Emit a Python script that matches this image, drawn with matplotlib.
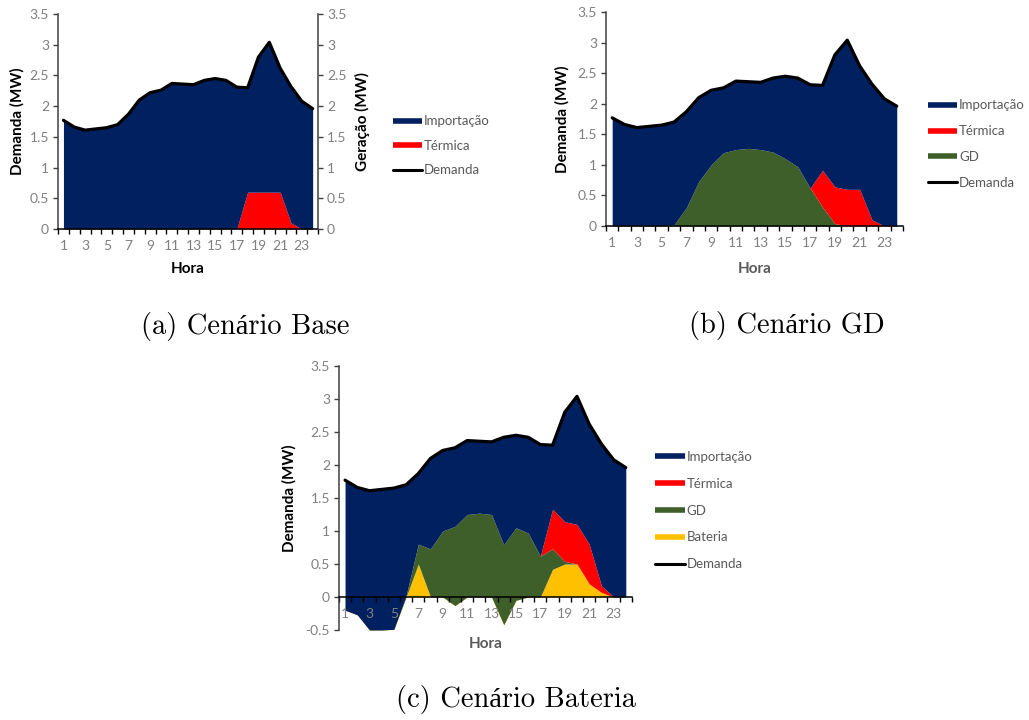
import numpy as np
import matplotlib
matplotlib.use("Agg")
import matplotlib.pyplot as plt
from matplotlib.lines import Line2D

plt.rcParams['font.family'] = ['Lato', 'DejaVu Sans']
plt.rcParams['axes.unicode_minus'] = False

# dados (MW por hora)
horas = np.arange(1, 25)
demanda = [1.77, 1.66, 1.61, 1.63, 1.65, 1.70, 1.87, 2.10, 2.22, 2.26, 2.37, 2.36,
           2.35, 2.42, 2.45, 2.42, 2.31, 2.30, 2.80, 3.04, 2.62, 2.32, 2.08, 1.96]
termica = [0, 0, 0, 0, 0, 0, 0, 0, 0, 0, 0, 0,
           0, 0, 0, 0, 0, 0.60, 0.60, 0.60, 0.60, 0.10, 0, 0]
gd = [0, 0, 0, 0, 0, 0.02, 0.30, 0.73, 1.00, 1.20, 1.25, 1.27,
      1.25, 1.21, 1.10, 0.97, 0.62, 0.31, 0.04, 0, 0, 0, 0, 0]
bateria = [-0.20, -0.27, -0.50, -0.50, -0.49, 0, 0.50, 0, 0, -0.13, 0, 0,
           0, -0.42, -0.05, 0, 0, 0.42, 0.50, 0.50, 0.20, 0.07, 0, 0]

x_labels = [str(h) for h in range(1, 25, 2)]

AZUL = '#002060'
VERMELHO = '#ff0000'
VERDE = '#3e5f2a'
AMARELO = '#ffc000'
CINZA = '#808080'
EIXO = '#404040'
TICK_FS = 10
LAB_FS = 11


def style_axis(ax, ymin):
    ax.set_xlim(0.5, 24.5)
    ax.set_ylim(ymin, 3.5)
    ax.set_xticks(range(1, 25, 2))
    ax.set_xticklabels(x_labels)
    ax.set_xticks(np.arange(0.5, 25, 1), minor=True)
    ax.tick_params(axis='x', which='major', length=0, pad=8, labelsize=TICK_FS, labelcolor=CINZA)
    ax.tick_params(axis='x', which='minor', length=3.5, width=1, color='black', direction='out')
    yt = np.arange(ymin, 3.51, 0.5)
    ax.set_yticks(yt)
    ax.set_yticklabels(['%g' % v for v in yt])
    ax.tick_params(axis='y', length=3.5, width=1, color=EIXO, pad=3, labelsize=TICK_FS, labelcolor=CINZA)
    ax.spines['top'].set_visible(False)
    ax.spines['right'].set_visible(False)
    ax.spines['left'].set_color(EIXO)
    ax.spines['left'].set_linewidth(1.1)
    ax.spines['bottom'].set_color('black')
    ax.spines['bottom'].set_linewidth(1.1)
    ax.spines['bottom'].set_position(('data', 0))
    ax.set_facecolor('none')


def draw_stack(ax, layers):
    # empilhamento tipo Excel: cada serie vai do acumulado anterior ao seu acumulado
    base = np.zeros(len(horas))
    for vals, cor in layers:
        top = base + np.array(vals)
        ax.fill_between(horas, base, top, color=cor, linewidth=0)
        base = top
    ax.plot(horas, demanda, color='black', lw=2.3, solid_joinstyle='round', solid_capstyle='round', zorder=5)


def importacao(*outras):
    return np.array(demanda) - np.sum(outras, axis=0)


def legend_handles(names):
    cores = {'Importação': AZUL, 'Térmica': VERMELHO, 'GD': VERDE, 'Bateria': AMARELO}
    hs = []
    for n in names:
        if n == 'Demanda':
            hs.append(Line2D([], [], color='black', lw=2.2, solid_capstyle='round'))
        else:
            hs.append(Line2D([], [], color=cores[n], lw=4, solid_capstyle='butt'))
    return hs


leg_kw = dict(loc='upper left', frameon=False, fontsize=9.5, labelcolor='#595959',
              handlelength=2.2, handletextpad=0.15, borderpad=0, borderaxespad=0)

fig = plt.figure(figsize=(10.29, 7.2), dpi=100)

# (a) Cenario Base
ax1 = fig.add_axes([0.0564, 0.6819, 0.2527, 0.2986])
draw_stack(ax1, [(termica, VERMELHO), (importacao(termica), AZUL)])
style_axis(ax1, 0)
ax1.set_ylabel('Demanda (MW)', fontsize=LAB_FS, fontweight='bold')
ax1.yaxis.set_label_coords(-0.13, 0.5)
ax1.set_xlabel('Hora', fontsize=LAB_FS, fontweight='bold')
ax1.xaxis.set_label_coords(0.5, -0.155)
ax1b = ax1.twinx()
ax1b.set_ylim(0, 3.5)
ax1b.set_yticks(np.arange(0, 3.51, 0.5))
ax1b.set_yticklabels(['%g' % v for v in np.arange(0, 3.51, 0.5)])
ax1b.tick_params(axis='y', length=3.5, width=1, color=EIXO, pad=3, labelsize=TICK_FS, labelcolor=CINZA)
for s in ['top', 'left', 'bottom']:
    ax1b.spines[s].set_visible(False)
ax1b.spines['right'].set_color(EIXO)
ax1b.spines['right'].set_linewidth(1.1)
ax1b.set_ylabel('Geração (MW)', fontsize=LAB_FS, fontweight='bold')
ax1b.yaxis.set_label_coords(1.14, 0.5)
nomes_a = ['Importação', 'Térmica', 'Demanda']
fig.legend(legend_handles(nomes_a), nomes_a, bbox_to_anchor=(0.382, 0.840),
           labelspacing=0.95, **leg_kw)

# (b) Cenario GD
ax2 = fig.add_axes([0.5889, 0.6861, 0.2886, 0.2972])
draw_stack(ax2, [(gd, VERDE), (termica, VERMELHO), (importacao(gd, termica), AZUL)])
style_axis(ax2, 0)
ax2.set_ylabel('Demanda (MW)', fontsize=LAB_FS, fontweight='bold')
ax2.yaxis.set_label_coords(-0.124, 0.5)
ax2.set_xlabel('Hora', fontsize=LAB_FS, fontweight='bold', color='#595959')
ax2.xaxis.set_label_coords(0.5, -0.168)
nomes_b = ['Importação', 'Térmica', 'GD', 'Demanda']
fig.legend(legend_handles(nomes_b), nomes_b, bbox_to_anchor=(0.902, 0.862),
           labelspacing=1.05, **leg_kw)

# (c) Cenario Bateria
ax3 = fig.add_axes([0.3294, 0.125, 0.2847, 0.3667])
draw_stack(ax3, [(bateria, AMARELO), (gd, VERDE), (termica, VERMELHO),
                 (importacao(bateria, gd, termica), AZUL)])
style_axis(ax3, -0.5)
ax3.set_ylabel('Demanda (MW)', fontsize=LAB_FS, fontweight='bold')
ax3.yaxis.set_label_coords(-0.143, 0.5)
ax3.set_xlabel('Hora', fontsize=LAB_FS, fontweight='bold', color='#595959')
ax3.xaxis.set_label_coords(0.5, -0.028)
nomes_c = ['Importação', 'Térmica', 'GD', 'Bateria', 'Demanda']
fig.legend(legend_handles(nomes_c), nomes_c, bbox_to_anchor=(0.637, 0.374),
           labelspacing=1.13, **leg_kw)

# legendas das figuras
cap = dict(fontsize=20.5, family=['cmr10', 'Liberation Serif'], ha='center', va='center')
fig.text(245 / 1029, 1 - 327 / 720, '(a) Cenário Base', **cap)
fig.text(787 / 1029, 1 - 326 / 720, '(b) Cenário GD', **cap)
fig.text(516 / 1029, 1 - 700 / 720, '(c) Cenário Bateria', **cap)

fig.savefig('out.png', dpi=100, facecolor='white')
